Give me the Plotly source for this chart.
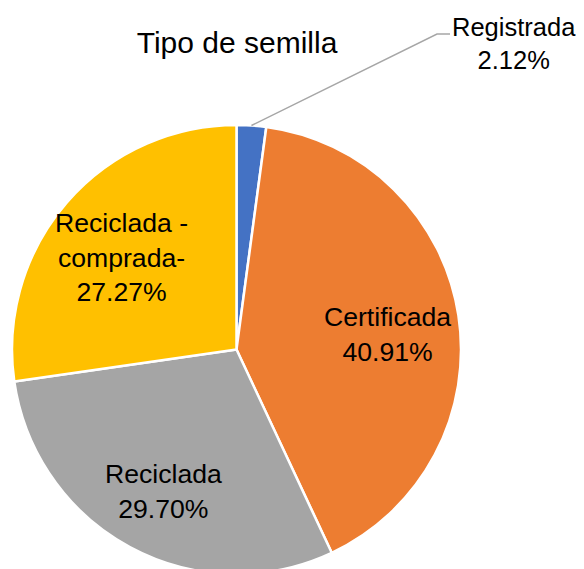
import math
import plotly.graph_objects as go

# datos del gráfico
etiquetas = ['Registrada', 'Certificada', 'Reciclada', 'Reciclada -comprada-']
textos = ['Registrada', 'Certificada', 'Reciclada', 'Reciclada -<br>comprada-']
porcentajes = [2.12, 40.91, 29.70, 27.27]
colores = ['#4472C4', '#ED7D31', '#A5A5A5', '#FFC000']

W, H = 584, 569
OFF = 8  # margen del body en la página
FUENTE = 'Liberation Sans, Arial'


def px2paper(x, y):
    return (x - OFF) / W, 1 - (y - OFF) / H


# pie de 12 a 461 px en x, arriba en 125 px
x0, y1 = px2paper(12, 125)
x1, _ = px2paper(461, 125)
dom_x = [x0, x1]
dom_y = [max(0, y1 - 449 / H), y1]

pie = go.Pie(
    labels=etiquetas,
    values=porcentajes,
    sort=False,
    direction='clockwise',
    rotation=0,
    marker=dict(colors=colores, line=dict(color='white', width=2.5)),
    textinfo='none',
    hoverinfo='label+percent',
    showlegend=False,
    domain=dict(x=dom_x, y=dom_y),
)

fig = go.Figure(data=[pie])

# centro y radio en pixeles de la figura
cx = (dom_x[0] + dom_x[1]) / 2 * W
cy = (1 - (dom_y[0] + dom_y[1]) / 2) * H
r = min((dom_x[1] - dom_x[0]) * W, (dom_y[1] - dom_y[0]) * H) / 2
total = sum(porcentajes)

# etiquetas internas en el ángulo medio de cada porción
acum = 0
for i, v in enumerate(porcentajes):
    medio = math.radians((acum + v / 2) / total * 360)
    acum += v
    if i == 0:
        continue
    tx = cx + 0.68 * r * math.sin(medio)
    ty = cy - 0.68 * r * math.cos(medio)
    fig.add_annotation(
        x=tx / W, y=1 - ty / H, xref='paper', yref='paper',
        xanchor='center', yanchor='middle', yshift=-8,
        text=f'{textos[i]}<br>{v:.2f}%', showarrow=False,
        font=dict(family=FUENTE, size=26.6, color='black'),
    )

# etiqueta externa "Registrada" con línea guía
ang = math.radians(porcentajes[0] / total * 360 / 2)
px = cx + r * math.sin(ang)
py = cy - r * math.cos(ang)
ex, ey = px2paper(437, 34)
hx, hy = px2paper(450, 34)
lx, ly = px2paper(514, 44)

fig.add_shape(
    type='path', xref='paper', yref='paper',
    path=f'M {px / W:.5f} {1 - py / H:.5f} L {ex:.5f} {ey:.5f} L {hx:.5f} {hy:.5f}',
    line=dict(color='#A6A6A6', width=1.5),
)
fig.add_annotation(
    x=lx, y=ly, xref='paper', yref='paper',
    xanchor='center', yanchor='middle',
    text=f'{etiquetas[0]}<br>{porcentajes[0]:.2f}%', showarrow=False,
    font=dict(family=FUENTE, size=25.5, color='black'),
)

tx, ty = px2paper(237, 42)
fig.update_layout(
    width=W, height=H,
    margin=dict(l=0, r=0, t=0, b=0),
    paper_bgcolor='white',
    title=dict(
        text='Tipo de semilla',
        x=tx, xanchor='center',
        y=ty, yanchor='middle',
        font=dict(family=FUENTE, size=30, color='black'),
    ),
)

fig.write_html('out.html')
